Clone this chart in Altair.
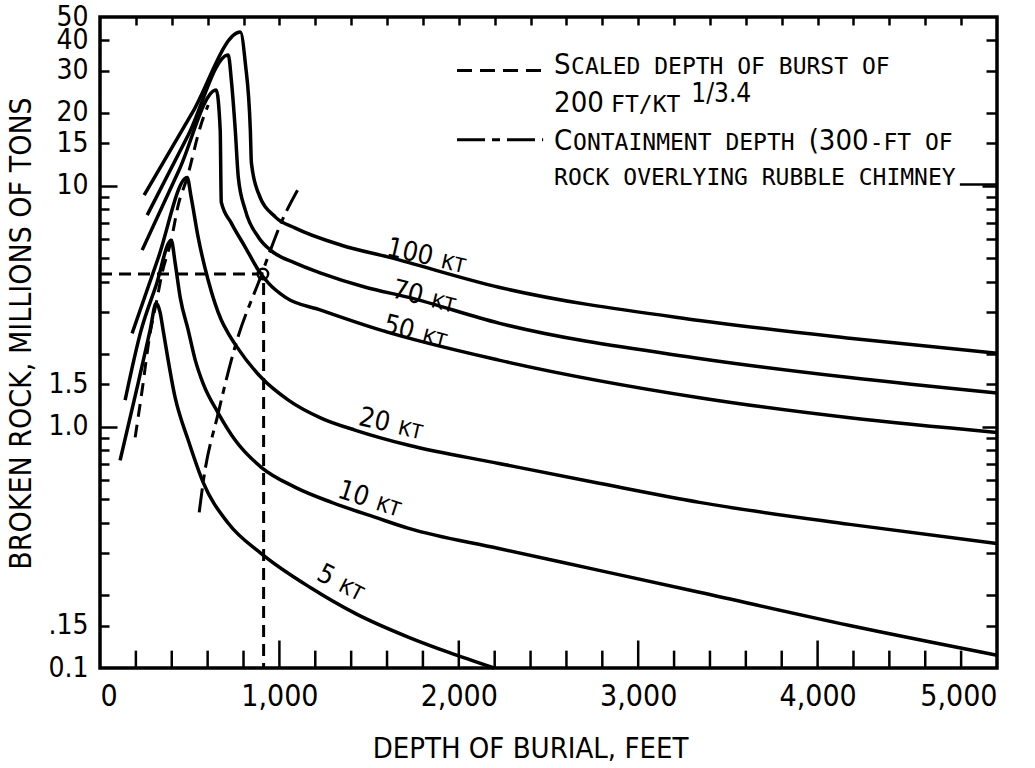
import altair as alt
import pandas as pd

FONT = "Liberation Sans Narrow, DejaVu Sans Condensed, Liberation Sans, sans-serif"
MONO = "DejaVu Sans Mono, Liberation Mono, monospace"

# ---------------- data (depth in feet, broken rock in millions of tons) ----------------
curve_names = ["100 KT", "70 KT", "50 KT", "20 KT", "10 KT", "5 KT"]

kt100_x = [246, 514, 782, 810, 838, 844, 883, 978, 1089, 1346, 1609, 2223, 3341, 4179, 5000]
kt100_y = [9.13, 20.0, 43.3, 32.2, 17.0, 12.4, 9.30, 7.40, 6.66, 5.66, 5.05, 3.79, 2.76, 2.33, 2.02]

kt70_x = [263, 492, 715, 732, 754, 771, 810, 883, 950, 1089, 1235, 1480, 1721, 2223, 3341, 4179, 5000]
kt70_y = [7.54, 16.2, 34.8, 27.4, 17.0, 10.8, 7.91, 6.11, 5.40, 4.77, 4.33, 3.79, 3.44, 2.69, 1.92, 1.60, 1.38]

kt50_x = [235, 441, 648, 670, 676, 732, 810, 883, 939, 1034, 1235, 1570, 2223, 3341, 4179, 5000]
kt50_y = [5.40, 11.6, 24.9, 17.0, 8.54, 6.99, 5.55, 4.46, 3.94, 3.44, 3.04, 2.51, 1.89, 1.32, 1.09, 0.948]

kt20_x = [179, 324, 486, 508, 547, 603, 676, 715, 760, 899, 1050, 1235, 1425, 1721, 2223, 2782, 3341, 4179, 5000]
kt20_y = [2.44, 5.00, 10.8, 8.96, 6.11, 4.05, 2.77, 2.44, 2.16, 1.60, 1.29, 1.084, 0.967, 0.838, 0.705, 0.583, 0.486, 0.394, 0.328]

kt10_x = [140, 229, 313, 397, 419, 447, 492, 531, 575, 659, 754, 899, 1089, 1291, 1536, 1721, 2223, 2782, 3341, 4179, 5000]
kt10_y = [1.29, 2.51, 3.86, 5.94, 4.77, 3.44, 2.51, 1.89, 1.51, 1.14, 0.879, 0.679, 0.561, 0.486, 0.421, 0.379, 0.313, 0.254, 0.206, 0.150, 0.113]

kt5_x = [112, 212, 279, 313, 335, 352, 419, 492, 575, 715, 899, 1179, 1425, 1721, 1944, 2196]
kt5_y = [0.726, 1.51, 2.51, 3.25, 2.98, 2.51, 1.32, 0.879, 0.588, 0.398, 0.298, 0.214, 0.168, 0.134, 0.116, 0.100]

# scaled depth of burst (dashed) and containment depth (dash-dot)
sdob_x = [196, 235, 279, 313, 346, 397, 436, 486, 559, 603]
sdob_y = [0.904, 1.42, 2.44, 3.25, 4.33, 5.94, 8.30, 10.8, 17.5, 21.6]
cont_x = [553, 575, 659, 760, 899, 950, 1011, 1101]
cont_y = [0.442, 0.589, 1.14, 2.24, 4.25, 5.40, 7.05, 9.57]

# reference read-off lines and the circled point
ref_name = ["h", "h", "v", "v"]
ref_x = [0, 875, 912, 912]
ref_y = [4.3, 4.3, 3.95, 0.1]
pt_x = [908]
pt_y = [4.3]

# curve labels
lab_num = ["100", "70", "50", "20", "10", "5"]
lab_x = [1860, 1804, 1754, 1620, 1497, 1291]
lab_y = [4.63, 3.19, 2.28, 0.948, 0.463, 0.216]
lab_angle = [13, 14, 15, 13, 18, 27]

# legend
leg_big_text = ["S", "200", "C", "(300"]
leg_big_x = [2531, 2531, 2531, 3950]
leg_big_y = [29.0, 20.2, 14.0, 14.0]
leg_small_text = ["CALED DEPTH OF BURST OF", "FT/KT", "ONTAINMENT DEPTH", "-FT OF",
                  "ROCK OVERLYING RUBBLE CHIMNEY"]
leg_small_x = [2626, 2849, 2637, 4290, 2531]
leg_small_y = [29.0, 20.2, 14.0, 14.0, 10.1]
leg_sup_text = ["1/3.4"]
leg_sup_x = [3296]
leg_sup_y = [22.2]
leg_dash_x = [1990, 2470]
leg_dash_y = [30.0, 30.0]
leg_dd_x = [1990, 2470]
leg_dd_y = [15.5, 15.5]
leg_uline_x = [4793, 5000]
leg_uline_y = [10.1, 10.1]

# axis ticks
x_ticks_minor = [200, 400, 600, 800, 1200, 1400, 1600, 1800, 2200, 2400, 2600, 2800,
                 3200, 3400, 3600, 3800, 4200, 4400, 4600, 4800]
x_ticks_major = [1000, 2000, 3000, 4000]
x_tick_labels = [0, 1000, 2000, 3000, 4000, 5000]
y_ticks_minor = [0.15, 0.2, 0.3, 0.4, 0.5, 0.6, 0.7, 0.8, 0.9, 1.5, 2, 3, 4, 5, 6, 7, 8, 9, 15, 20, 30, 40]
y_ticks_major = [1, 10]
y_tick_labels = [0.1, 0.15, 1, 1.5, 10, 15, 20, 30, 40, 50]

W, H = 897, 651
Y_BOTTOM = 0.1      # bottom edge of the log axis
MINOR_TOP = 0.118   # upper end of a minor bottom tick
MAJOR_TOP = 0.13    # upper end of a major bottom tick

# ---------------- tables ----------------
rows = []
for name, xs, ys in zip(curve_names,
                        [kt100_x, kt70_x, kt50_x, kt20_x, kt10_x, kt5_x],
                        [kt100_y, kt70_y, kt50_y, kt20_y, kt10_y, kt5_y]):
    for i, (a, b) in enumerate(zip(xs, ys)):
        rows.append({"curve": name, "i": i, "depth": a, "rock": b})
curves = pd.DataFrame(rows)

bticks = pd.DataFrame({
    "depth": x_ticks_minor + x_ticks_major,
    "lo": [Y_BOTTOM] * (len(x_ticks_minor) + len(x_ticks_major)),
    "hi": [MINOR_TOP] * len(x_ticks_minor) + [MAJOR_TOP] * len(x_ticks_major),
})

sdob = pd.DataFrame({"depth": sdob_x, "rock": sdob_y, "i": range(len(sdob_x))})
cont = pd.DataFrame({"depth": cont_x, "rock": cont_y, "i": range(len(cont_x))})
refl = pd.DataFrame({"seg": ref_name, "depth": ref_x, "rock": ref_y})
pts = pd.DataFrame({"depth": pt_x, "rock": pt_y})
labs = pd.DataFrame({"depth": lab_x, "rock": lab_y, "num": lab_num, "ang": lab_angle,
                     "kt": ["KT"] * len(lab_num)})
leg_big = pd.DataFrame({"depth": leg_big_x, "rock": leg_big_y, "t": leg_big_text})
leg_small = pd.DataFrame({"depth": leg_small_x, "rock": leg_small_y, "t": leg_small_text})
leg_sup = pd.DataFrame({"depth": leg_sup_x, "rock": leg_sup_y, "t": leg_sup_text})
leg_dash = pd.DataFrame({"depth": leg_dash_x, "rock": leg_dash_y})
leg_dd = pd.DataFrame({"depth": leg_dd_x, "rock": leg_dd_y})
leg_ul = pd.DataFrame({"depth": leg_uline_x, "rock": leg_uline_y})

XS = alt.Scale(domain=[0, 5000], nice=False, zero=False)
YS = alt.Scale(type="log", domain=[0.1, 50], nice=False)


def tick_axis(orient, values, size, offset=None):
    return alt.Axis(orient=orient, values=values, tickSize=size,
                    offset=-size if offset is None else offset, labels=False,
                    domain=False, grid=False, title=None, ticks=True, tickColor="black",
                    tickWidth=2.5)


x_label_axis = alt.Axis(orient="bottom", values=x_tick_labels, format=",d", labelFont=FONT,
                        labelFontSize=30, labelColor="black", labelPadding=13, ticks=False,
                        tickSize=0, domain=False, grid=False, labelFlush=True,
                        title="DEPTH OF BURIAL, FEET", titleFont=FONT, titleFontSize=29,
                        titleFontWeight="normal", titleColor="black", titleX=430, titleY=89,
                        titleBaseline="alphabetic")
y_label_axis = alt.Axis(orient="left", values=y_tick_labels, labelFont=FONT, labelFontSize=28,
                        labelColor="black", labelPadding=12, ticks=False, tickSize=0,
                        domain=False, grid=False, labelOverlap=False, labelFlush=False,
                        labelExpr="datum.value < 0.12 ? '0.1' : datum.value < 0.5 ? '.15' : "
                                  "datum.value < 1.2 ? '1.0' : datum.value < 5 ? '1.5' : "
                                  "format(datum.value, 'd')",
                        title="BROKEN ROCK, MILLIONS OF TONS", titleFont=FONT, titleFontSize=30,
                        titleFontWeight="normal", titleColor="black", titleX=-64, titleY=316,
                        titleBaseline="bottom")


def xy(xaxis, yaxis):
    return dict(x=alt.X("depth:Q", scale=XS, axis=xaxis), y=alt.Y("rock:Q", scale=YS, axis=yaxis))


lines = alt.Chart(curves).mark_line(color="black", strokeWidth=3.5, interpolate="monotone").encode(
    **xy(x_label_axis, y_label_axis), detail="curve:N", order="i:Q")

# inward ticks along the bottom edge
bt_l = alt.Chart(bticks).mark_rule(color="black", strokeWidth=2.5).encode(
    x=alt.X("depth:Q", scale=XS, axis=None),
    y=alt.Y("lo:Q", scale=YS, axis=None),
    y2=alt.Y2("hi:Q"))

sdob_l = alt.Chart(sdob).mark_line(color="black", strokeWidth=3, strokeDash=[13, 8],
                                   interpolate="monotone").encode(
    **xy(None, tick_axis("left", y_ticks_minor, 9)), order="i:Q")

cont_l = alt.Chart(cont).mark_line(color="black", strokeWidth=3, strokeDash=[24, 7, 7, 7],
                                   interpolate="monotone").encode(
    **xy(None, tick_axis("left", y_ticks_major, 17)), order="i:Q")

ref_l = alt.Chart(refl).mark_line(color="black", strokeWidth=3, strokeDash=[12, 7]).encode(
    **xy(tick_axis("top", x_ticks_minor + x_ticks_major, 8), tick_axis("right", y_ticks_minor, 11)),
    detail="seg:N")

circ = alt.Chart(pts).mark_point(shape="circle", size=110, filled=False, color="black",
                                 strokeWidth=2.5, opacity=1).encode(
    **xy(None, tick_axis("right", y_ticks_major, 15)))

lab_n = alt.Chart(labs).mark_text(font=FONT, fontSize=27, align="right", baseline="alphabetic",
                                  dx=-3, color="black").encode(
    **xy(None, None), text="num:N", angle=alt.Angle("ang:Q", scale=None))
lab_k = alt.Chart(labs).mark_text(font=MONO, fontSize=20, align="left", baseline="alphabetic",
                                  dx=7, color="black").encode(
    **xy(None, None), text="kt:N", angle=alt.Angle("ang:Q", scale=None))

lg_big = alt.Chart(leg_big).mark_text(font=FONT, fontSize=29, align="left", baseline="alphabetic",
                                      color="black").encode(**xy(None, None), text="t:N")
lg_small = alt.Chart(leg_small).mark_text(font=MONO, fontSize=23, align="left", baseline="alphabetic",
                                          color="black").encode(**xy(None, None), text="t:N")
lg_sup = alt.Chart(leg_sup).mark_text(font=FONT, fontSize=26, align="left", baseline="alphabetic",
                                      color="black").encode(**xy(None, None), text="t:N")
lg_dash = alt.Chart(leg_dash).mark_line(color="black", strokeWidth=3, strokeDash=[15, 8]).encode(
    **xy(None, None))
lg_dd = alt.Chart(leg_dd).mark_line(color="black", strokeWidth=3, strokeDash=[28, 7, 8, 7]).encode(
    **xy(None, None))
lg_ul = alt.Chart(leg_ul).mark_line(color="black", strokeWidth=2.5).encode(**xy(None, None))

chart = alt.layer(lines, bt_l, sdob_l, cont_l, ref_l, circ, lab_n, lab_k, lg_big, lg_small,
                  lg_sup, lg_dash, lg_dd, lg_ul).resolve_axis(x="independent", y="independent").properties(
    width=W, height=H, autosize=alt.AutoSizeParams(type="none"),
    padding={"left": 100, "top": 17, "right": 38, "bottom": 100},
    background="white",
).configure_view(stroke="black", strokeWidth=3.5)

chart.save("out.html", embed_options={"renderer": "svg", "actions": False})
